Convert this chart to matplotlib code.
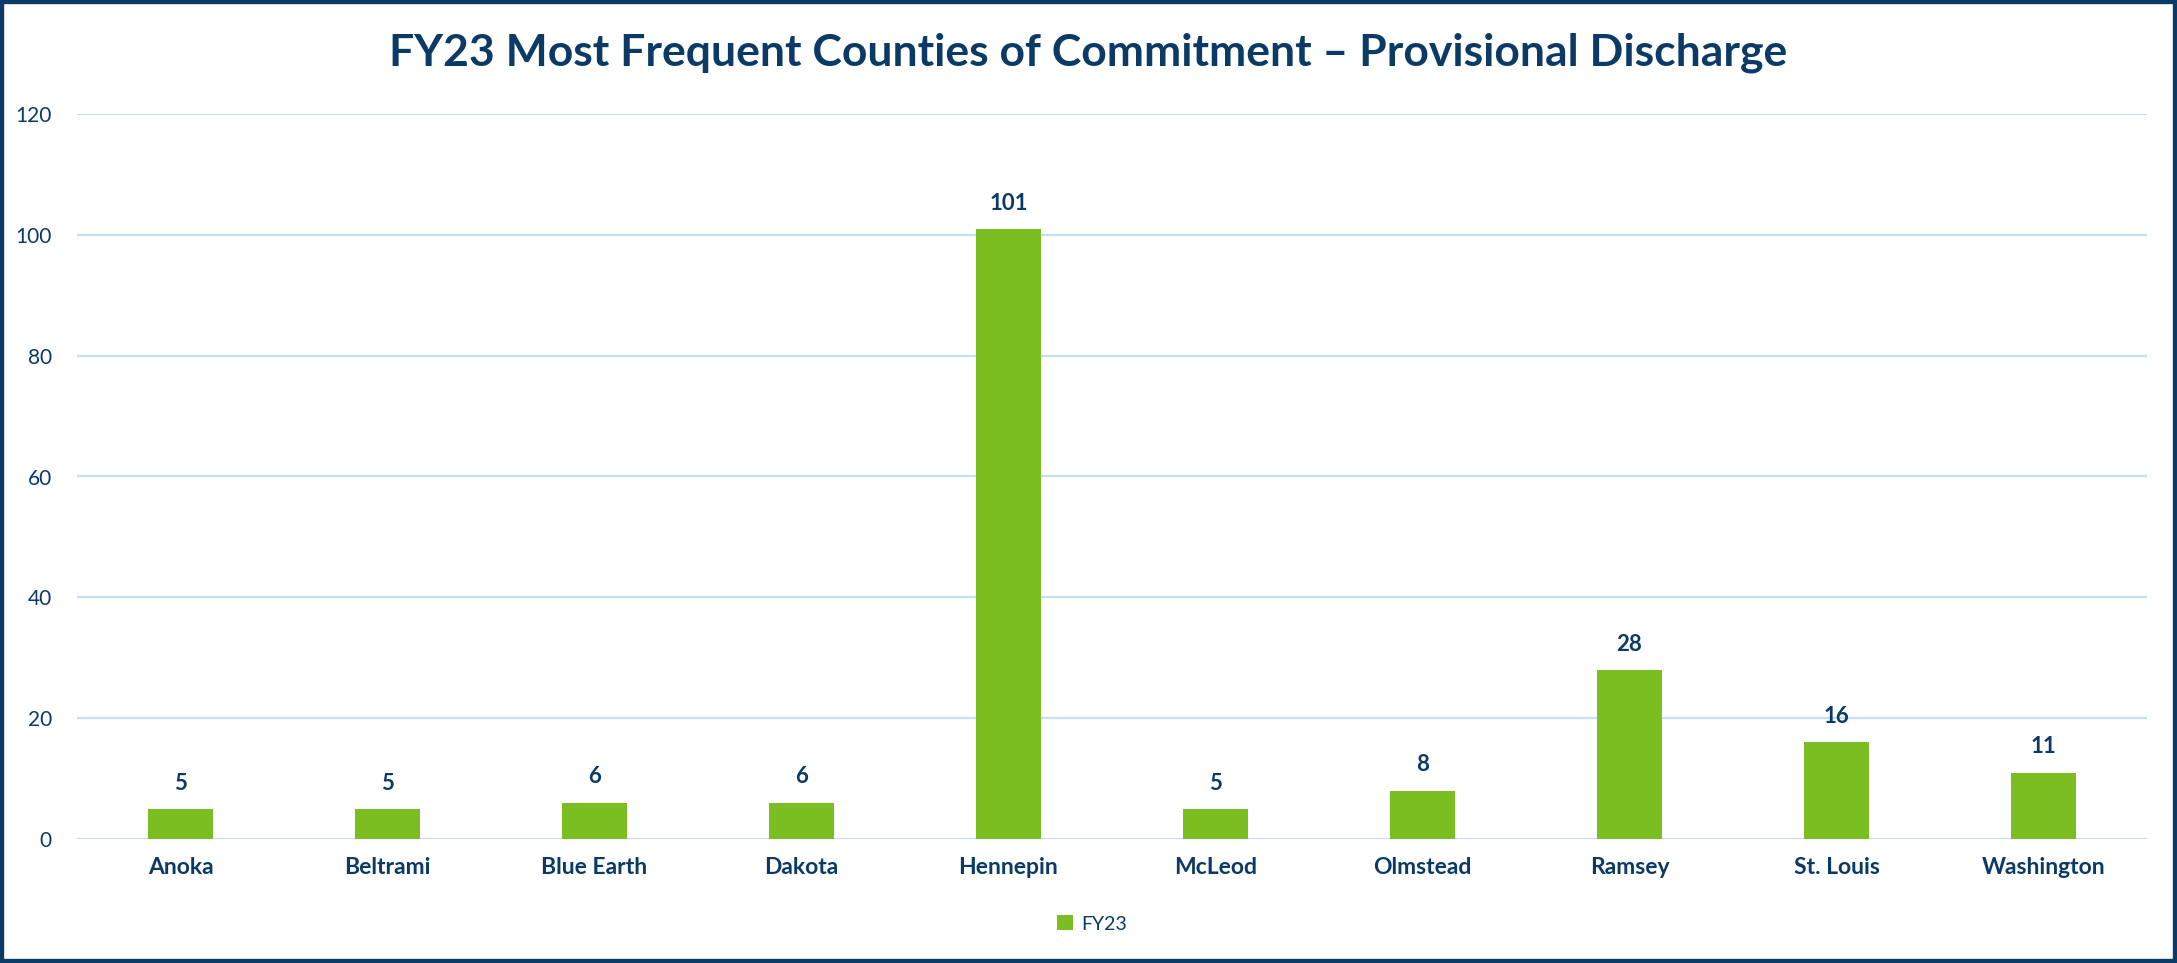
import matplotlib
matplotlib.use("Agg")
import matplotlib.pyplot as plt
from matplotlib.patches import Rectangle

# data
counties = ["Anoka", "Beltrami", "Blue Earth", "Dakota", "Hennepin",
            "McLeod", "Olmstead", "Ramsey", "St. Louis", "Washington"]
fy23 = [5, 5, 6, 6, 101, 5, 8, 28, 16, 11]
yticks = [0, 20, 40, 60, 80, 100, 120]
series_name = "FY23"
title = "FY23 Most Frequent Counties of Commitment \u2013 Provisional Discharge"

navy = "#0B3A66"
green = "#7BBE22"
grid = "#C5E0F5"

plt.rcParams["font.family"] = ["Lato", "DejaVu Sans"]

fig = plt.figure(figsize=(21.77, 9.63), dpi=100)
ax = fig.add_axes([77 / 2177, 1 - 839 / 963, 2070 / 2177, 725 / 963])

x = range(len(counties))
bars = ax.bar(x, fy23, width=0.315, color=green, label=series_name, zorder=3)

for b, v in zip(bars, fy23):
    ax.annotate(str(v), (b.get_x() + b.get_width() / 2, v),
                xytext=(0, 11), textcoords="offset points",
                ha="center", va="bottom", fontsize=16, fontweight="bold",
                color=navy)

ax.set_xlim(-0.5, len(counties) - 0.5)
ax.set_ylim(0, 120)
ax.set_yticks(yticks)
ax.set_xticks(list(x))
ax.set_xticklabels(counties, fontsize=16.5, fontweight="bold", color=navy)
ax.tick_params(axis="y", labelsize=15, labelcolor=navy, length=0, pad=18)
ax.tick_params(axis="x", length=0, pad=13)
ax.yaxis.grid(True, color=grid, linewidth=1.6, zorder=0)
for s in ax.spines.values():
    s.set_visible(False)

fig.text(1088 / 2177, 1 - 53 / 963, title, ha="center", va="center",
         fontsize=32, fontweight="bold", color=navy)

leg = fig.legend(loc="center", bbox_to_anchor=(1092 / 2177, 1 - 924 / 963),
                 frameon=False, fontsize=14, handlelength=0.8,
                 handleheight=0.8, handletextpad=0.4)
for t in leg.get_texts():
    t.set_color(navy)

fig.patches.append(Rectangle((0, 0), 1, 1, transform=fig.transFigure,
                             fill=False, edgecolor=navy, linewidth=6))

fig.savefig("out.png", dpi=100)
